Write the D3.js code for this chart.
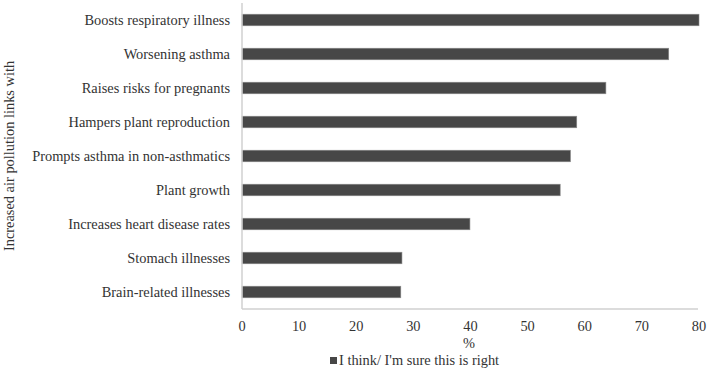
<!DOCTYPE html>
<html><head><meta charset="utf-8">
<script src="https://cdn.jsdelivr.net/npm/d3@7"></script>
<style>body{margin:0;background:#fff}svg{display:block}</style>
</head><body>
<svg id="chart" width="708" height="378"></svg>
<script>
const categories = ["Boosts respiratory illness","Worsening asthma","Raises risks for pregnants","Hampers plant reproduction","Prompts asthma in non-asthmatics","Plant growth","Increases heart disease rates","Stomach illnesses","Brain-related illnesses"];
const values = [80.0, 74.7, 63.7, 58.6, 57.5, 55.7, 39.9, 28.0, 27.8];
const xTicks = [0,10,20,30,40,50,60,70,80];
const seriesName = "I think/ I'm sure this is right";
const xTitle = "%";
const yTitle = "Increased air pollution links with";

const svg = d3.select("#chart");
const font = "'Liberation Serif','Times New Roman',serif";
const fs = 14.4;
const textColor = "#333";
const x = d3.scaleLinear().domain([0,80]).range([242,699]);
const y = d3.scaleBand().domain(categories).range([3,309]).paddingInner(0.66).paddingOuter(0.33);

svg.selectAll("rect.bar").data(values).join("rect")
  .attr("class","bar")
  .attr("x", x(0))
  .attr("y", (d,i)=> y(categories[i]))
  .attr("width", d=> x(d)-x(0))
  .attr("height", y.bandwidth())
  .attr("fill","#474747")
  .attr("stroke","#8a8a8a").attr("stroke-width",0.6);

// axes lines
svg.append("line").attr("x1",x(0)).attr("x2",x(0)).attr("y1",3).attr("y2",309).attr("stroke","#d0d0d0").attr("stroke-width",1.5);
svg.append("line").attr("x1",x(0)).attr("x2",698).attr("y1",309).attr("y2",309).attr("stroke","#d0d0d0").attr("stroke-width",1.5);

// x tick labels
svg.selectAll("text.xt").data(xTicks).join("text").attr("class","xt")
  .attr("x", d=>x(d)).attr("y",331).attr("text-anchor","middle")
  .attr("font-family",font).attr("font-size",fs).attr("fill",textColor).text(d=>d);

// category labels
svg.selectAll("text.yt").data(categories).join("text").attr("class","yt")
  .attr("x",230).attr("y", d=> y(d)+y.bandwidth()/2).attr("dy","0.35em").attr("text-anchor","end")
  .attr("font-family",font).attr("font-size",fs).attr("fill",textColor).text(d=>d);

svg.append("text").attr("x",469).attr("y",348).attr("text-anchor","middle")
  .attr("font-family",font).attr("font-size",fs).attr("fill",textColor).text(xTitle);

svg.append("text").attr("transform","translate(14,156) rotate(-90)").attr("text-anchor","middle")
  .attr("font-family",font).attr("font-size",fs).attr("fill",textColor).text(yTitle);

// legend
svg.append("rect").attr("x",330).attr("y",357).attr("width",7).attr("height",7).attr("fill","#474747");
svg.append("text").attr("x",339).attr("y",365)
  .attr("font-family",font).attr("font-size",fs).attr("fill",textColor).text(seriesName);
</script>
</body></html>
